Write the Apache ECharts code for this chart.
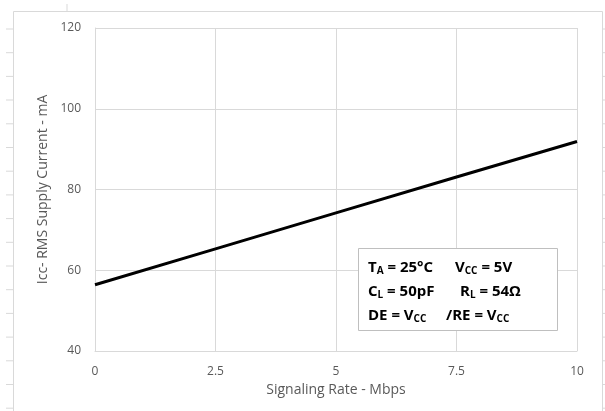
<!DOCTYPE html>
<html><head><meta charset="utf-8">
<script src="https://cdn.jsdelivr.net/npm/echarts@6/dist/echarts.min.js"></script>
<style>html,body{margin:0;padding:0;background:#fff}#c{width:605px;height:411px}</style>
</head><body><div id="c"></div>
<script>
const rates = [0, 2.5, 5, 7.5, 10];
const current = [56.4, 65.3, 74.2, 83.1, 91.9];
const xName = 'Signaling Rate - Mbps';
const yName = 'Icc- RMS Supply Current - mA';

const chart = echarts.init(document.getElementById('c'), null, {renderer: 'canvas'});
const font = '"Open Sans", sans-serif';
const rowY = [29, 52.7, 76.4, 100, 123.8, 147.5, 171.2, 194.9, 218.6, 242.3, 266, 289.7, 313.4, 337.1, 360.8, 384.5, 408.2];
const gfx = [];
rowY.forEach(y => {
  gfx.push({type:'line', shape:{x1:6,y1:y,x2:13,y2:y}, style:{stroke:'#d9d9d9', lineWidth:1}, silent:true});
  gfx.push({type:'line', shape:{x1:603,y1:y,x2:605,y2:y}, style:{stroke:'#d9d9d9', lineWidth:1}, silent:true});
});
gfx.push({type:'line', shape:{x1:67,y1:4,x2:67,y2:11}, style:{stroke:'#d9d9d9', lineWidth:1}, silent:true});
gfx.push({type:'rect', shape:{x:13.5,y:11.5,width:589,height:420}, style:{fill:null, stroke:'#d9d9d9', lineWidth:1}, silent:true, z:-1});
gfx.push({type:'rect', shape:{x:358.5,y:248.5,width:199,height:82}, style:{fill:'#fff', stroke:'#bfbfbf', lineWidth:1}, z:10});
const rich = {
  b:{fontFamily:font, fontWeight:'bold', fontSize:15, color:'#000'},
  s:{fontFamily:font, fontWeight:'bold', fontSize:10, color:'#000', verticalAlign:'bottom', padding:[7,0,0,0]}
};
function txt(x, y, t){
  gfx.push({type:'text', x:x, y:y, z:11, style:{text:t, rich:rich, verticalAlign:'middle'}});
}
txt(368, 268, '{b|T}{s|A}{b| = 25°C}');
txt(455, 268, '{b|V}{s|CC}{b| = 5V}');
txt(368, 292, '{b|C}{s|L}{b| = 50pF}');
txt(460, 292, '{b|R}{s|L}{b| = 54Ω}');
txt(368, 316, '{b|DE = V}{s|CC}');
txt(446, 316, '{b|/RE = V}{s|CC}');

chart.setOption({
  animation:false,
  backgroundColor:'#fff',
  grid:{left:95, right:28, top:28, bottom:60, containLabel:false},
  xAxis:{
    type:'value', min:0, max:10, interval:2.5,
    name:xName, nameLocation:'middle', nameGap:30,
    nameTextStyle:{color:'#595959', fontSize:14, fontFamily:font},
    axisLine:{show:true, lineStyle:{color:'#d9d9d9'}},
    axisTick:{show:false},
    axisLabel:{color:'#595959', fontSize:12, fontFamily:font, margin:15},
    splitLine:{show:true, lineStyle:{color:'#d9d9d9'}}
  },
  yAxis:{
    type:'value', min:40, max:120, interval:20,
    name:yName, nameLocation:'middle', nameGap:39,
    nameTextStyle:{color:'#595959', fontSize:14, fontFamily:font},
    axisLine:{show:true, lineStyle:{color:'#d9d9d9'}},
    axisTick:{show:false},
    axisLabel:{color:'#595959', fontSize:12, fontFamily:font, margin:14},
    splitLine:{show:true, lineStyle:{color:'#d9d9d9'}}
  },
  series:[{
    type:'line', data:rates.map((r,i)=>[r,current[i]]),
    showSymbol:false, lineStyle:{color:'#000', width:3}, z:5
  }],
  graphic:gfx
});
</script></body></html>
